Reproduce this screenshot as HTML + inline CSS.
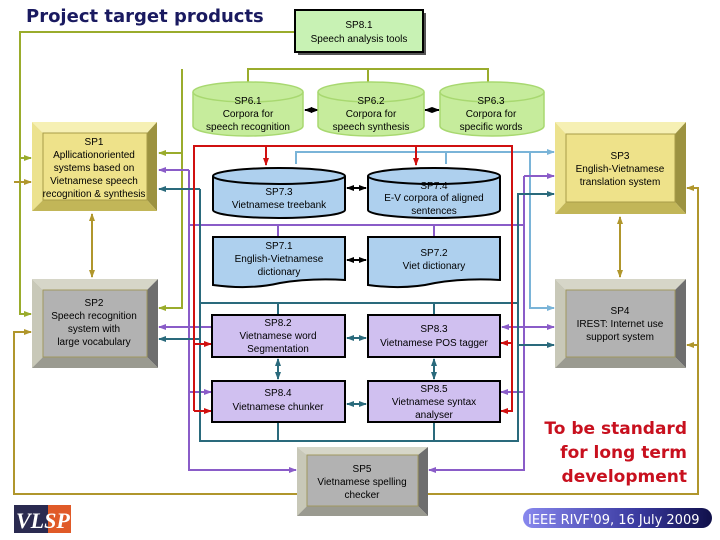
<!DOCTYPE html>
<html><head><meta charset="utf-8"><style>
html,body{margin:0;padding:0;background:#fff;}
svg{display:block;font-family:"Liberation Sans",sans-serif;}
</style></head><body>
<svg width="720" height="540" viewBox="0 0 720 540" xmlns="http://www.w3.org/2000/svg">
<defs>
<marker id="aO" markerUnits="userSpaceOnUse" markerWidth="8" markerHeight="8" refX="7" refY="4" orient="auto"><path d="M0,1 L8,4 L0,7z" fill="#9aac2c"/></marker>
<marker id="aG" markerUnits="userSpaceOnUse" markerWidth="8" markerHeight="8" refX="7" refY="4" orient="auto"><path d="M0,1 L8,4 L0,7z" fill="#b0962c"/></marker>
<marker id="aR" markerUnits="userSpaceOnUse" markerWidth="8" markerHeight="8" refX="7" refY="4" orient="auto"><path d="M0,1 L8,4 L0,7z" fill="#d01010"/></marker>
<marker id="aB" markerUnits="userSpaceOnUse" markerWidth="8" markerHeight="8" refX="7" refY="4" orient="auto"><path d="M0,1 L8,4 L0,7z" fill="#7ab4d8"/></marker>
<marker id="aP" markerUnits="userSpaceOnUse" markerWidth="8" markerHeight="8" refX="7" refY="4" orient="auto"><path d="M0,1 L8,4 L0,7z" fill="#8a5cc8"/></marker>
<marker id="aT" markerUnits="userSpaceOnUse" markerWidth="8" markerHeight="8" refX="7" refY="4" orient="auto"><path d="M0,1 L8,4 L0,7z" fill="#2a6a7c"/></marker>
<marker id="aK" markerUnits="userSpaceOnUse" markerWidth="8" markerHeight="8" refX="7" refY="4" orient="auto"><path d="M0,1 L8,4 L0,7z" fill="#000"/></marker>
<marker id="sT" markerUnits="userSpaceOnUse" markerWidth="8" markerHeight="8" refX="1" refY="4" orient="auto"><path d="M8,1 L0,4 L8,7z" fill="#2a6a7c"/></marker>
<marker id="sP" markerUnits="userSpaceOnUse" markerWidth="8" markerHeight="8" refX="1" refY="4" orient="auto"><path d="M8,1 L0,4 L8,7z" fill="#8a5cc8"/></marker>
<marker id="sK" markerUnits="userSpaceOnUse" markerWidth="8" markerHeight="8" refX="1" refY="4" orient="auto"><path d="M8,1 L0,4 L8,7z" fill="#000"/></marker>
<marker id="sG" markerUnits="userSpaceOnUse" markerWidth="8" markerHeight="8" refX="1" refY="4" orient="auto"><path d="M8,1 L0,4 L8,7z" fill="#b0962c"/></marker>
<linearGradient id="ieee" x1="0" x2="1"><stop offset="0" stop-color="#8888ee"/><stop offset="0.6" stop-color="#3a3aa0"/><stop offset="1" stop-color="#10104a"/></linearGradient>
</defs>

<text x="26" y="22" font-family="DejaVu Sans, sans-serif" font-size="18" font-weight="bold" fill="#1a1a60">Project target products</text>

<g fill="none" stroke="#9aac2c" stroke-width="2">
<path d="M295,32 H20 V314 H31" marker-end="url(#aO)"/>
<path d="M20,158 H31" marker-end="url(#aO)"/>
<path d="M248,82 V69 H488 V82"/>
<path d="M368,69 V82"/>
<path d="M182,69 V308 H159" marker-end="url(#aO)"/>
<path d="M182,153 H159" marker-end="url(#aO)"/>
</g>
<g fill="none" stroke="#b0962c" stroke-width="2">
<path d="M297,494 H14 V332 H31" marker-end="url(#aG)"/>
<path d="M14,182 H31" marker-end="url(#aG)"/>
<path d="M428,494 H698 V188 H687" marker-end="url(#aG)"/>
<path d="M698,345 H687" marker-end="url(#aG)"/>
<path d="M92,214 V277" marker-start="url(#sG)" marker-end="url(#aG)"/>
<path d="M620,217 V277" marker-start="url(#sG)" marker-end="url(#aG)"/>
</g>
<g fill="none" stroke="#7ab4d8" stroke-width="2">
<path d="M296,164 V152 H554" marker-end="url(#aB)"/>
<path d="M446,152 V164"/>
<path d="M530,152 V308 H554" marker-end="url(#aB)"/>
</g>
<g fill="none" stroke="#8a5cc8" stroke-width="2">
<path d="M189,225 H524"/>
<path d="M278,225 V237"/><path d="M434,225 V237"/>
<path d="M189,170 V470 H296" marker-end="url(#aP)"/>
<path d="M189,170 H159" marker-end="url(#aP)"/>
<path d="M211,327 H159" marker-start="url(#aP)" marker-end="url(#aP)"/>
<path d="M189,392 H211" marker-end="url(#aP)"/>
<path d="M524,176 V470 H429" marker-end="url(#aP)"/>
<path d="M524,176 H554" marker-end="url(#aP)"/>
<path d="M502,327 H554" marker-start="url(#sP)" marker-end="url(#aP)"/>
<path d="M524,392 H501" marker-end="url(#aP)"/>
</g>
<g fill="none" stroke="#2a6a7c" stroke-width="2">
<path d="M200,189 V441 H518 V194 H554" marker-end="url(#aT)"/>
<path d="M200,189 H159" marker-end="url(#aT)"/>
<path d="M200,303 H518"/>
<path d="M278,303 V315"/><path d="M434,303 V315"/>
<path d="M278,422 V441"/><path d="M434,422 V441"/>
<path d="M200,339 H159" marker-end="url(#aT)"/>
<path d="M518,345 H554" marker-end="url(#aT)"/>
<path d="M347,338 H366" marker-start="url(#sT)" marker-end="url(#aT)"/>
<path d="M347,404 H366" marker-start="url(#sT)" marker-end="url(#aT)"/>
<path d="M278,359 V379" marker-start="url(#sT)" marker-end="url(#aT)"/>
<path d="M434,359 V379" marker-start="url(#sT)" marker-end="url(#aT)"/>
</g>
<g fill="none" stroke="#d01010" stroke-width="2">
<path d="M194,411 V146 H512 V411 H501" marker-end="url(#aR)"/>
<path d="M266,146 V165" marker-end="url(#aR)"/>
<path d="M416,146 V165" marker-end="url(#aR)"/>
<path d="M194,344 H211" marker-end="url(#aR)"/>
<path d="M194,411 H211" marker-end="url(#aR)"/>
<path d="M512,343 H501" marker-end="url(#aR)"/>
</g>
<g stroke="#000" stroke-width="2" fill="none">
<path d="M305,110 H318" marker-start="url(#sK)" marker-end="url(#aK)"/>
<path d="M425,110 H439" marker-start="url(#sK)" marker-end="url(#aK)"/>
<path d="M347,188 H366" marker-start="url(#sK)" marker-end="url(#aK)"/>
<path d="M347,260 H366" marker-start="url(#sK)" marker-end="url(#aK)"/>
</g>

<rect x="298" y="13" width="128" height="42" fill="#555"/>
<rect x="295" y="10" width="128" height="42" fill="#c8f2b4" stroke="#000" stroke-width="2"/>
<text x="359" y="28" font-size="10" text-anchor="middle">SP8.1</text>
<text x="359" y="42" font-size="10" text-anchor="middle">Speech analysis tools</text>

<g fill="#c6ec9c" stroke="#a8d870" stroke-width="1.5">
<path d="M193,92 V126 A55,10 0 0 0 303,126 V92"/><ellipse cx="248" cy="92" rx="55" ry="10"/>
<path d="M318,92 V126 A53,10 0 0 0 424,126 V92"/><ellipse cx="371" cy="92" rx="53" ry="10"/>
<path d="M440,92 V126 A52,10 0 0 0 544,126 V92"/><ellipse cx="492" cy="92" rx="52" ry="10"/>
</g>
<g font-size="10" text-anchor="middle">
<text x="248" y="104">SP6.1</text><text x="248" y="117">Corpora for</text><text x="248" y="130">speech recognition</text>
<text x="371" y="104">SP6.2</text><text x="371" y="117">Corpora for</text><text x="371" y="130">speech synthesis</text>
<text x="491" y="104">SP6.3</text><text x="491" y="117">Corpora for</text><text x="491" y="130">specific words</text>
</g>

<g fill="#aed0ee" stroke="#000" stroke-width="2">
<path d="M213,176 V210 A66,8 0 0 0 345,210 V176"/><ellipse cx="279" cy="176" rx="66" ry="8"/>
<path d="M368,176 V210 A66,8 0 0 0 500,210 V176"/><ellipse cx="434" cy="176" rx="66" ry="8"/>
<path d="M213,237 H345 V280 Q310,278 280,283 Q250,290 213,285 Z"/>
<path d="M368,237 H500 V280 Q465,278 435,283 Q405,290 368,285 Z"/>
</g>
<g font-size="10" text-anchor="middle">
<text x="279" y="195">SP7.3</text><text x="279" y="208">Vietnamese treebank</text>
<text x="434" y="189">SP7.4</text><text x="434" y="201">E-V corpora of aligned</text><text x="434" y="214">sentences</text>
<text x="279" y="249">SP7.1</text><text x="279" y="262">English-Vietnamese</text><text x="279" y="275">dictionary</text>
<text x="434" y="256">SP7.2</text><text x="434" y="269">Viet dictionary</text>
</g>

<g fill="#d0c0f0" stroke="#000" stroke-width="2">
<rect x="212" y="315" width="133" height="42"/><rect x="368" y="315" width="132" height="42"/>
<rect x="212" y="381" width="133" height="41"/><rect x="368" y="381" width="132" height="41"/>
</g>
<g font-size="10" text-anchor="middle">
<text x="278" y="326">SP8.2</text><text x="278" y="339">Vietnamese word</text><text x="278" y="352">Segmentation</text>
<text x="434" y="332">SP8.3</text><text x="434" y="346">Vietnamese POS tagger</text>
<text x="278" y="396">SP8.4</text><text x="278" y="410">Vietnamese chunker</text>
<text x="434" y="392">SP8.5</text><text x="434" y="405">Vietnamese syntax</text><text x="434" y="418">analyser</text>
</g>

<g>
<polygon points="32,122 157,122 147,133 43,133" fill="#f6f0b4"/>
<polygon points="32,122 43,133 43,200 32,211" fill="#ece28e"/>
<polygon points="157,122 157,211 147,200 147,133" fill="#9c9240"/>
<polygon points="32,211 157,211 147,200 43,200" fill="#c2b658"/>
<rect x="43" y="133" width="104" height="67" fill="#eee28a" stroke="#a89c48"/>
<polygon points="555,122 686,122 675,134 566,134" fill="#f6f0b4"/>
<polygon points="555,122 566,134 566,202 555,214" fill="#ece28e"/>
<polygon points="686,122 686,214 675,202 675,134" fill="#9c9240"/>
<polygon points="555,214 686,214 675,202 566,202" fill="#c2b658"/>
<rect x="566" y="134" width="109" height="68" fill="#eee28a" stroke="#a89c48"/>
<polygon points="32,279 158,279 147,290 43,290" fill="#d6d6c8"/>
<polygon points="32,279 43,290 43,357 32,368" fill="#c8c8b8"/>
<polygon points="158,279 158,368 147,357 147,290" fill="#6e6e6e"/>
<polygon points="32,368 158,368 147,357 43,357" fill="#9a9a90"/>
<rect x="43" y="290" width="104" height="67" fill="#b2b2b2" stroke="#a09860"/>
<polygon points="555,279 686,279 675,290 566,290" fill="#d6d6c8"/>
<polygon points="555,279 566,290 566,357 555,368" fill="#c8c8b8"/>
<polygon points="686,279 686,368 675,357 675,290" fill="#6e6e6e"/>
<polygon points="555,368 686,368 675,357 566,357" fill="#9a9a90"/>
<rect x="566" y="290" width="109" height="67" fill="#b2b2b2" stroke="#a09860"/>
<polygon points="297,447 428,447 418,455 307,455" fill="#d6d6c8"/>
<polygon points="297,447 307,455 307,506 297,516" fill="#c8c8b8"/>
<polygon points="428,447 428,516 418,506 418,455" fill="#6e6e6e"/>
<polygon points="297,516 428,516 418,506 307,506" fill="#9a9a90"/>
<rect x="307" y="455" width="111" height="51" fill="#b2b2b2" stroke="#a09860"/>
</g>
<g font-size="10" text-anchor="middle">
<text x="94" y="145">SP1</text><text x="94" y="158">Apllicationoriented</text><text x="94" y="171">systems based on</text><text x="94" y="184">Vietnamese speech</text><text x="94" y="197">recognition &amp; synthesis</text>
<text x="620" y="159">SP3</text><text x="620" y="172">English-Vietnamese</text><text x="620" y="185">translation system</text>
<text x="94" y="306">SP2</text><text x="94" y="319">Speech recognition</text><text x="94" y="332">system with</text><text x="94" y="345">large vocabulary</text>
<text x="620" y="314">SP4</text><text x="620" y="327">IREST: Internet use</text><text x="620" y="340">support system</text>
<text x="362" y="472">SP5</text><text x="362" y="485">Vietnamese spelling</text><text x="362" y="498">checker</text>
</g>

<g font-family="DejaVu Sans, sans-serif" font-size="17" fill="#c8101e" text-anchor="end" font-weight="bold">
<text x="687" y="434">To be standard</text>
<text x="687" y="458">for long term</text>
<text x="687" y="482">development</text>
</g>

<rect x="523" y="508" width="189" height="20" rx="10" fill="url(#ieee)"/>
<text x="528" y="524" font-family="DejaVu Sans, sans-serif" font-size="13" fill="#fff">IEEE RIVF'09, 16 July 2009</text>

<rect x="14" y="505" width="34" height="28" fill="#2a2a50"/>
<rect x="48" y="505" width="23" height="28" fill="#e05a28"/>
<text x="16" y="528" font-family="Liberation Serif, serif" font-style="italic" font-weight="bold" font-size="22" fill="#fff">VLSP</text>
</svg>
</body></html>
